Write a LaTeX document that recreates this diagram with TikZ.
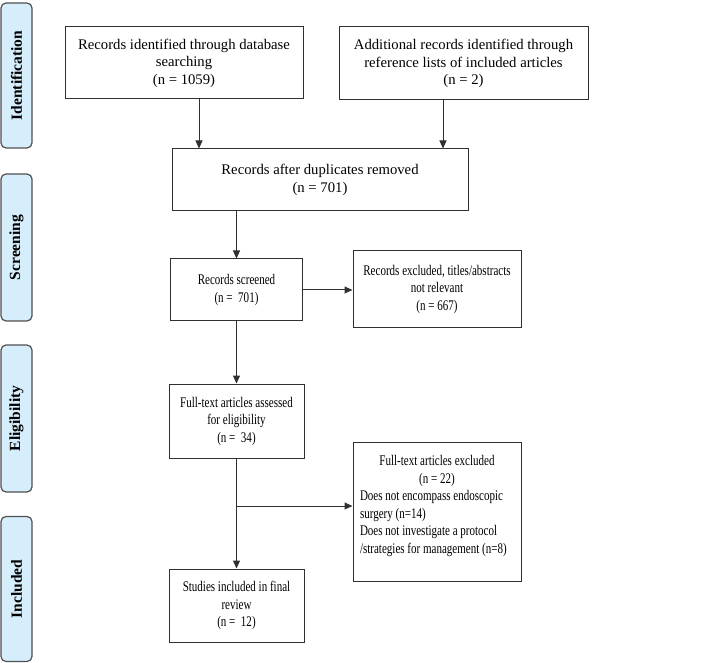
\documentclass[tikz,border=0pt]{standalone}
\usepackage{fontspec}
\setmainfont{Liberation Serif}
\newfontfamily\condfont[FakeStretch=0.75]{Liberation Serif}
\usetikzlibrary{arrows.meta}
\definecolor{phasefill}{HTML}{D6EDFC}
\definecolor{phaseline}{HTML}{505050}
\definecolor{inkline}{HTML}{303030}
\tikzset{
  box/.style={draw=inkline, line width=1pt, inner sep=2pt, align=center,
    font=\fontsize{14.7}{17.5}\selectfont},
  cbox/.style={box, font=\condfont\fontsize{14.7}{17.5}\selectfont},
  phase/.style={draw=phaseline, fill=phasefill, line width=1.2pt, rounded corners=5pt,
    rotate=90, minimum height=31pt, inner sep=0pt,
    font=\bfseries\fontsize{15.5}{18}\selectfont},
  arr/.style={draw=inkline, line width=1pt, -{Triangle[length=8pt,width=7pt]}},
  ln/.style={draw=inkline, line width=1pt}
}
\begin{document}
\begin{tikzpicture}[x=1pt,y=-1pt]
\useasboundingbox (0,0) rectangle (710,663);
% phase bars
\node[phase, minimum width=145pt] (p1) at (16.5,75.5) {Identification};
\node[phase, minimum width=147pt] (p2) at (16.5,247.5) {Screening};
\node[phase, minimum width=147pt] (p3) at (16.5,418.5) {Eligibility};
\node[phase, minimum width=145pt] (p4) at (16.5,589) {Included};
% boxes
\node[box, minimum width=238pt, minimum height=72pt] (A) at (184,63)
  {Records identified through database\\searching\\(n = 1059)};
\node[box, minimum width=249pt, minimum height=73pt] (B) at (463.5,63.5)
  {Additional records identified through\\reference lists of included articles\\(n = 2)};
\node[box, minimum width=296pt, minimum height=62pt] (C) at (320,180)
  {Records after duplicates removed\\(n = 701)};
\node[cbox, minimum width=132pt, minimum height=62pt] (D) at (236.5,290)
  {Records screened\\(n = \ 701)};
\node[cbox, minimum width=168pt, minimum height=76pt] (E) at (437,289)
  {Records excluded, titles/abstracts\\not relevant\\(n = 667)};
\node[cbox, minimum width=135pt, minimum height=74pt] (F) at (236.5,421)
  {Full-text articles assessed\\for eligibility\\(n = \ 34)};
\node[cbox, minimum width=168pt, minimum height=139pt] (G) at (437,511.5) {};
\node[anchor=north, inner sep=0pt, font=\condfont\fontsize{14.7}{17.5}\selectfont,
  align=left] (Gt) at ([yshift=-14pt]G.north)
  {\makebox[154pt][c]{Full-text articles excluded}\\
   \makebox[154pt][c]{(n = 22)}\\
   Does not encompass endoscopic\\
   surgery (n=14)\\
   Does not investigate a protocol\\
   /strategies for management (n=8)};
\node[cbox, minimum width=135pt, minimum height=73pt] (H) at (236.5,605.5)
  {Studies included in final\\review\\(n = \ 12)};
% connectors
\draw[arr] ([xshift=15pt]A.south) -- ([xshift=15pt]A.south |- C.north);
\draw[arr] ([xshift=-20.5pt]B.south) -- ([xshift=-20.5pt]B.south |- C.north);
\draw[arr] (D.north |- C.south) -- (D.north);
\draw[arr] (D.east) -- (D.east -| E.west);
\draw[arr] (D.south) -- (F.north);
\draw[arr] (F.south) -- (H.north);
\coordinate (br) at (236.5,506);
\draw[arr] (br) -- (br -| G.west);
\end{tikzpicture}
\end{document}
